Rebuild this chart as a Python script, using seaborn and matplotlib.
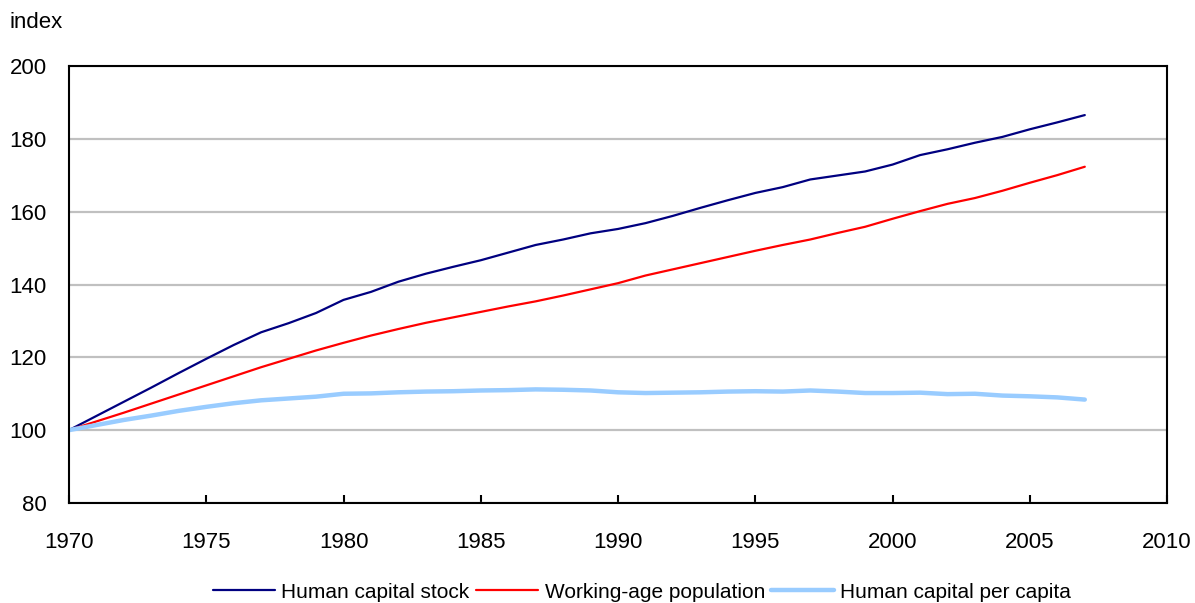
import numpy as np
import matplotlib
matplotlib.use('Agg')
import matplotlib.pyplot as plt
import pandas as pd
import seaborn as sns

years = list(range(1970, 2008))

stock = [100.0, 103.9, 107.8, 111.7, 115.7, 119.6, 123.4, 126.9, 129.4, 132.2,
         135.8, 138.0, 140.8, 143.0, 144.9, 146.7, 148.8, 150.9, 152.4, 154.1,
         155.3, 156.9, 158.9, 161.1, 163.2, 165.2, 166.8, 168.9, 170.0, 171.1,
         173.0, 175.6, 177.2, 179.0, 180.6, 182.7, 184.6, 186.6]

population = [100.0, 102.4, 104.8, 107.3, 109.8, 112.3, 114.8, 117.3, 119.6, 121.9,
              124.0, 126.0, 127.8, 129.5, 131.0, 132.5, 134.0, 135.4, 137.0, 138.7,
              140.4, 142.5, 144.2, 145.9, 147.6, 149.3, 150.9, 152.4, 154.2, 155.9,
              158.1, 160.2, 162.2, 163.8, 165.8, 168.0, 170.1, 172.4]

per_capita = [100.0, 101.4, 102.8, 104.0, 105.3, 106.4, 107.4, 108.2, 108.7, 109.2,
              110.0, 110.1, 110.4, 110.6, 110.7, 110.9, 111.0, 111.2, 111.1, 110.9,
              110.4, 110.2, 110.3, 110.4, 110.6, 110.7, 110.6, 110.9, 110.6, 110.2,
              110.2, 110.3, 109.9, 110.0, 109.5, 109.3, 109.0, 108.4]

labels = ['Human capital stock', 'Working-age population', 'Human capital per capita']
colors = ['#000080', '#ff0000', '#99ccff']
widths = [1.6, 1.6, 3.2]

df = pd.DataFrame({'year': years, labels[0]: stock, labels[1]: population,
                   labels[2]: per_capita})

sns.set_style('white')
plt.rcParams['font.family'] = ['Liberation Sans', 'DejaVu Sans']
plt.rcParams['text.color'] = 'black'
plt.rcParams['xtick.color'] = 'black'
plt.rcParams['ytick.color'] = 'black'

fig = plt.figure(figsize=(11.95, 6.03), dpi=100)
ax = fig.add_axes([0.0577, 0.166, 0.919, 0.724])

for lab, col, lw in zip(labels, colors, widths):
    sns.lineplot(data=df, x='year', y=lab, color=col, linewidth=lw, label=lab, ax=ax)

ax.set_xlim(1970, 2010)
ax.set_ylim(80, 200)
ax.set_xticks(range(1970, 2011, 5))
ax.set_yticks(range(80, 201, 20))
ax.yaxis.grid(True, color='#c0c0c0', linewidth=1.6)
ax.set_axisbelow(True)
ax.set_xlabel('')
ax.set_ylabel('')
for sp in ax.spines.values():
    sp.set_color('black')
    sp.set_linewidth(1.5)
ax.tick_params(axis='x', direction='in', length=6, width=1.5, color='black',
               labelsize=16, pad=21, bottom=True)
ax.tick_params(axis='y', length=0, labelsize=16, pad=16, left=False)

fig.text(0.008, 0.963, 'index', fontsize=16, va='center', ha='left')

ax.legend_.remove()
handles, labs = ax.get_legend_handles_labels()
fig.legend(handles, labs, loc='center', bbox_to_anchor=(0.537, 0.018), ncol=3,
           frameon=False, fontsize=15, handlelength=3.0, handletextpad=0.3,
           columnspacing=0.3)

fig.savefig('out.png', dpi=100)
